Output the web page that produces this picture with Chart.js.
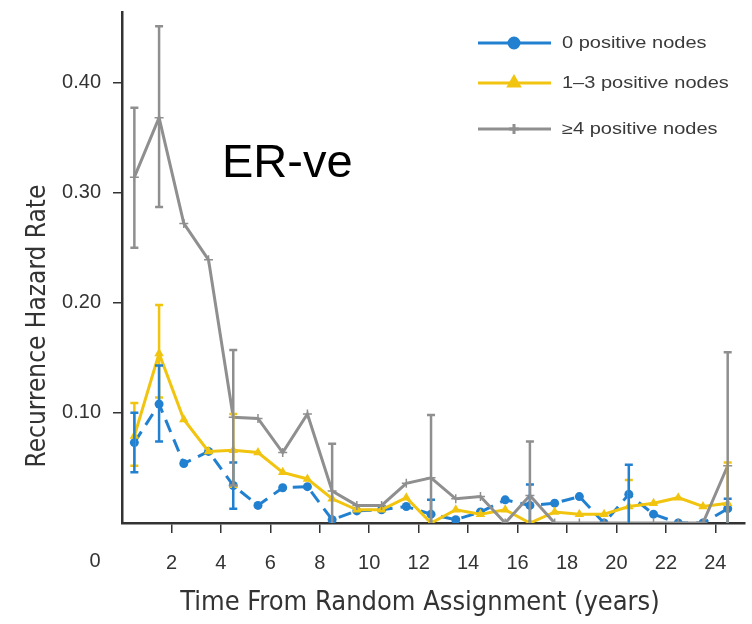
<!DOCTYPE html>
<html>
<head>
<meta charset="utf-8">
<title>ER-ve recurrence hazard</title>
<script src="https://cdn.jsdelivr.net/npm/chart.js@4/dist/chart.umd.min.js"></script>
<style>
    html, body {
        margin: 0;
        padding: 0;
        background: #ffffff;
    }
    #box {
        position: relative;
        width: 752px;
        height: 624px;
    }
</style>
</head>
<body>
<div id="box"><canvas id="chart"></canvas></div>
<script>
// Mid-points of each yearly interval
const years = [0.5, 1.5, 2.5, 3.5, 4.5, 5.5, 6.5, 7.5, 8.5, 9.5, 10.5, 11.5,
    12.5, 13.5, 14.5, 15.5, 16.5, 17.5, 18.5, 19.5, 20.5, 21.5, 22.5, 23.5, 24.5];

const seriesLabels = ['0 positive nodes', '1\u20133 positive nodes', '\u22654 positive nodes'];

// Hazard rates
const nodes0 = [0.073, 0.108, 0.054, 0.065, 0.034, 0.016, 0.032, 0.033, 0.003, 0.011,
    0.012, 0.015, 0.008, 0.003, 0.010, 0.021, 0.016, 0.018, 0.024, 0.000,
    0.026, 0.008, 0.000, 0.000, 0.013];
const nodes13 = [0.079, 0.154, 0.094, 0.065, 0.066, 0.064, 0.046, 0.040, 0.022, 0.012,
    0.012, 0.023, 0.000, 0.012, 0.008, 0.012, 0.000, 0.010, 0.008, 0.008,
    0.015, 0.018, 0.023, 0.015, 0.018];
const nodes4 = [0.314, 0.368, 0.272, 0.239, 0.096, 0.095, 0.064, 0.099, 0.029, 0.016,
    0.016, 0.036, 0.041, 0.022, 0.024, 0.000, 0.025, 0.000, 0.000, 0.000,
    0.000, 0.000, 0.000, 0.000, 0.052];

// Error bars, null where none is drawn
const nodes0Low = [0.046, 0.074, null, null, 0.013, null, null, null, null, null,
    null, null, 0.000, null, null, null, 0.000, null, null, null,
    0.000, null, null, null, 0.000];
const nodes0High = [0.100, 0.143, null, null, 0.055, null, null, null, null, null,
    null, null, 0.021, null, null, null, 0.035, null, null, null,
    0.053, null, null, null, 0.022];
const nodes13Low = [0.052, 0.114, null, null, 0.033, null, null, null, null, null,
    null, null, null, null, null, null, null, null, null, null,
    0.000, null, null, null, 0.000];
const nodes13High = [0.109, 0.198, null, null, 0.099, null, null, null, null, null,
    null, null, null, null, null, null, null, null, null, null,
    0.039, null, null, null, 0.055];
const nodes4Low = [0.250, 0.287, null, null, 0.034, null, null, null, 0.000, null,
    null, null, 0.000, null, null, null, 0.000, null, null, null,
    null, null, null, null, 0.000];
const nodes4High = [0.377, 0.451, null, null, 0.157, null, null, null, 0.072, null,
    null, null, 0.098, null, null, null, 0.074, null, null, null,
    null, null, null, null, 0.155];

const yTicks = [0.1, 0.2, 0.3, 0.4];
const xTicks = [2, 4, 6, 8, 10, 12, 14, 16, 18, 20, 22, 24];

const BLUE = '#2280d0';
const YELLOW = '#f1c40f';
const GREY = '#8f8f8f';
const AXIS = '#333333';
const NARROW = '"DejaVu Sans Condensed", "DejaVu Sans", sans-serif';

/**
 * Pair x values with y values for a linear x axis
 *
 * @param {Array} values Array of values
 * @return {Array} Array of {x, y}
 */
function points(values) {
    'use strict';
    return years.map((x, i) => ({x: x, y: values[i]}));
}

/**
 * Draws vertical error bars with caps for each dataset
 */
const pluginErrorBars = {
    id: 'errorBars',
    afterDatasetsDraw: function(chart, args, opts) {
        'use strict';
        const ctx = chart.ctx;
        const xs = chart.scales.x;
        const ys = chart.scales.y;
        ctx.save();
        for (const bar of opts.bars) {
            ctx.strokeStyle = bar.color;
            ctx.lineWidth = 2.5;
            for (let i = 0; i < years.length; ++i) {
                if (bar.low[i] === null)
                    continue;
                const x = xs.getPixelForValue(years[i]);
                const y0 = ys.getPixelForValue(bar.low[i]);
                const y1 = ys.getPixelForValue(bar.high[i]);
                ctx.beginPath();
                ctx.moveTo(x, y0);
                ctx.lineTo(x, y1);
                ctx.moveTo(x - 4, y1);
                ctx.lineTo(x + 4, y1);
                if (bar.low[i] > 0) {
                    ctx.moveTo(x - 4, y0);
                    ctx.lineTo(x + 4, y0);
                }
                ctx.stroke();
            }
        }
        ctx.restore();
    },
};

/**
 * Legend inside the plot, axis titles, panel label and the shared origin label
 */
const pluginDecor = {
    id: 'decor',
    afterDraw: function(chart) {
        'use strict';
        const ctx = chart.ctx;
        const xs = chart.scales.x;
        const ys = chart.scales.y;
        ctx.save();

        // Origin label sits on the x tick row, left of the y axis
        ctx.fillStyle = AXIS;
        ctx.font = '20px "Liberation Sans", sans-serif';
        ctx.textAlign = 'center';
        ctx.textBaseline = 'middle';
        ctx.fillText('0', xs.getPixelForValue(0) - 27, ys.bottom + 38);

        // X title, a little left of the plot centre as in the source
        ctx.font = '27px ' + NARROW;
        ctx.fillText('Time From Random Assignment (years)', 420, ys.bottom + 80);

        // Y title, set lower than the middle of the axis as in the source
        ctx.save();
        ctx.translate(38, 326);
        ctx.rotate(-Math.PI / 2);
        ctx.font = '26px ' + NARROW;
        ctx.fillText('Recurrence Hazard Rate', 0, 0);
        ctx.restore();

        // Panel label
        ctx.fillStyle = '#000000';
        ctx.font = '47px "Liberation Sans", Arial, sans-serif';
        ctx.textAlign = 'left';
        ctx.textBaseline = 'alphabetic';
        ctx.fillText('ER-ve', 222, 177);

        // Legend
        const rows = [43, 83, 129];
        chart.data.datasets.forEach((ds, i) => {
            const y = rows[i];
            ctx.strokeStyle = ds.borderColor;
            ctx.lineWidth = 3;
            ctx.setLineDash([]);
            ctx.beginPath();
            ctx.moveTo(478, y);
            ctx.lineTo(551, y);
            ctx.stroke();
            ctx.fillStyle = ds.pointBackgroundColor;
            ctx.strokeStyle = ds.borderColor;
            Chart.helpers.drawPoint(ctx, {
                pointStyle: ds.pointStyle,
                radius: ds.pointRadius + 0.5,
                borderWidth: ds.pointBorderWidth || 1,
            }, 514, y);
            ctx.save();
            ctx.translate(562, y);
            ctx.scale(1.25, 1);
            ctx.fillStyle = '#3a3a3a';
            ctx.font = '16px "Liberation Sans", sans-serif';
            ctx.textAlign = 'left';
            ctx.textBaseline = 'middle';
            ctx.fillText(ds.label, 0, 1);
            ctx.restore();
        });
        ctx.restore();
    },
};

/**
 * Create the line chart with error bars
 *
 * @param {Object} ctx Canvas context to use
 * @return {Object} Chart object
 */
function createChart(ctx) {
    'use strict';
    const datasets = [];
    datasets.push({
        label: seriesLabels[0],
        data: points(nodes0),
        borderColor: BLUE,
        backgroundColor: BLUE,
        pointBackgroundColor: BLUE,
        borderWidth: 3,
        borderDash: [13, 8],
        pointStyle: 'circle',
        pointRadius: 4.5,
        pointBorderWidth: 0,
        order: 2,
    });
    datasets.push({
        label: seriesLabels[1],
        data: points(nodes13),
        borderColor: YELLOW,
        backgroundColor: YELLOW,
        pointBackgroundColor: YELLOW,
        borderWidth: 3,
        pointStyle: 'triangle',
        pointRadius: 5.5,
        pointBorderWidth: 0,
        order: 1,
    });
    datasets.push({
        label: seriesLabels[2],
        data: points(nodes4),
        borderColor: GREY,
        backgroundColor: GREY,
        pointBackgroundColor: GREY,
        borderWidth: 3,
        pointStyle: 'cross',
        pointRadius: 4.5,
        pointBorderWidth: 1.5,
        order: 0,
    });

    return new Chart(ctx, {
        type: 'line',
        data: {datasets: datasets},
        options: {
            responsive: true,
            maintainAspectRatio: false,
            animation: false,
            events: [],
            layout: {
                padding: {top: 12, right: 7, left: 0, bottom: 0},
            },
            scales: {
                x: {
                    type: 'linear',
                    min: 0,
                    max: 25.2,
                    afterBuildTicks: function(scale) {
                        scale.ticks = xTicks.map(v => ({value: v}));
                    },
                    afterFit: function(scale) {
                        scale.height = 101;
                        scale.paddingLeft = 0;
                        scale.paddingRight = 0;
                    },
                    border: {color: AXIS, width: 2.5},
                    grid: {
                        drawOnChartArea: false,
                        color: AXIS,
                        lineWidth: 1.5,
                        tickLength: 10,
                    },
                    ticks: {
                        color: AXIS,
                        font: {family: '"Liberation Sans", sans-serif', size: 20},
                        maxRotation: 0,
                        padding: 18,
                    },
                },
                y: {
                    min: 0,
                    max: 0.464,
                    afterBuildTicks: function(scale) {
                        scale.ticks = yTicks.map(v => ({value: v}));
                    },
                    afterFit: function(scale) {
                        scale.width = 122;
                        scale.paddingTop = 0;
                        scale.paddingBottom = 0;
                    },
                    border: {color: AXIS, width: 2.5},
                    grid: {
                        drawOnChartArea: false,
                        color: AXIS,
                        lineWidth: 1.5,
                        tickLength: 9,
                    },
                    ticks: {
                        color: AXIS,
                        font: {family: '"Liberation Sans", sans-serif', size: 20},
                        padding: 12,
                        callback: v => v.toFixed(2),
                    },
                },
            },
            plugins: {
                legend: {display: false},
                tooltip: {enabled: false},
                errorBars: {
                    bars: [
                        {color: YELLOW, low: nodes13Low, high: nodes13High},
                        {color: BLUE, low: nodes0Low, high: nodes0High},
                        {color: GREY, low: nodes4Low, high: nodes4High},
                    ],
                },
            },
        },
        plugins: [pluginErrorBars, pluginDecor],
    });
}

createChart(document.getElementById('chart').getContext('2d'));
</script>
</body>
</html>
